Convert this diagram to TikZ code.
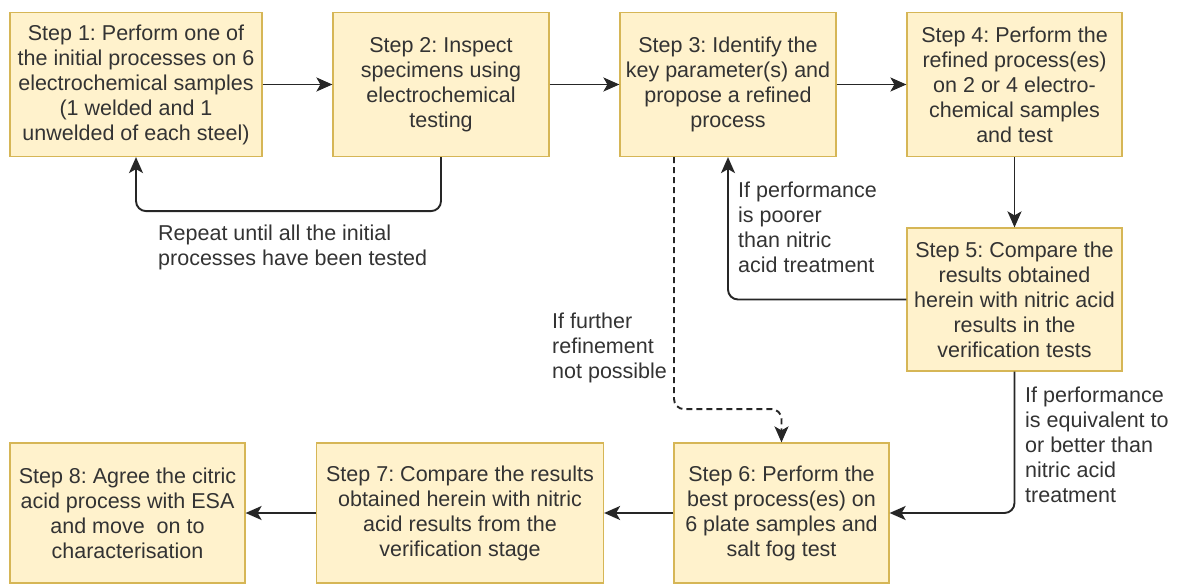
\documentclass[tikz,border=0pt]{standalone}
\usepackage{fontspec}
\setmainfont{Liberation Sans}
\usepackage{xcolor}
\usetikzlibrary{arrows.meta,calc}

\definecolor{boxfill}{HTML}{FFF2CC}
\definecolor{boxline}{HTML}{D6B656}
\definecolor{txtgray}{HTML}{333333}

\frenchspacing

\tikzset{
  stepbox/.style={draw=boxline, line width=1.2pt, fill=boxfill, text=txtgray, align=center,
    inner sep=0pt, font=\fontsize{21.5}{25}\selectfont},
  note/.style={text=txtgray, align=left, inner sep=0pt, anchor=west,
    font=\fontsize{21.5}{25}\selectfont},
  arr/.style={-{Stealth[length=16pt,width=14pt,inset=4pt]}, line width=1.9pt, draw=black!85},
}

\begin{document}
\begin{tikzpicture}[x=1pt,y=-1pt]

    \useasboundingbox (0,0) rectangle (1178,585);

    % top row
    \node[stepbox, minimum width=252pt, minimum height=144pt] (s1) at (136,84.5)
      {Step 1: Perform one of\\the initial processes on 6\\electrochemical samples\\(1 welded and 1\\unwelded of each steel)};
    \node[stepbox, minimum width=216pt, minimum height=144pt] (s2) at (441,84.5)
      {Step 2: Inspect\\specimens using\\electrochemical\\testing};
    \node[stepbox, minimum width=216pt, minimum height=144pt] (s3) at (728,84.5)
      {Step 3: Identify the\\key parameter(s) and\\propose a refined\\process};
    \node[stepbox, minimum width=215pt, minimum height=144pt] (s4) at (1014.5,84.5)
      {Step 4: Perform the\\refined process(es)\\on 2 or 4 electro-\\chemical samples\\and test};

    \node[stepbox, minimum width=215pt, minimum height=143pt] (s5) at (1014.5,299.5)
      {Step 5: Compare the\\results obtained\\herein with nitric acid\\results in the\\verification tests};

    % bottom row
    \node[stepbox, minimum width=215pt, minimum height=140pt] (s6) at (781.5,513)
      {Step 6: Perform the\\best process(es) on\\6 plate samples and\\salt fog test};
    \node[stepbox, minimum width=287pt, minimum height=140pt] (s7) at (460,513)
      {Step 7: Compare the results\\obtained herein with nitric\\acid results from the\\verification stage};
    \node[stepbox, minimum width=235pt, minimum height=140pt] (s8) at (127.5,513)
      {Step 8: Agree the citric\\acid process with ESA\\and move\ \ on to\\characterisation};

    \draw[arr] (s1) -- (s2);
    \draw[arr] (s2) -- (s3);
    \draw[arr] (s3) -- (s4);
    \draw[arr] (s4) -- (s5);
    \draw[arr, rounded corners=10pt] (s2.south) -- ++(0,54) -| (s1.south);
    \draw[arr, rounded corners=10pt] (s5.west) -| (s3.south);
    \draw[arr, rounded corners=10pt] (s5.south) |- (s6.east);
    \draw[arr, dash pattern=on 6pt off 4pt, rounded corners=10pt]
      ($(s3.south)+(-54,0)$) -- ++(0,252) -| (s6.north);
    \draw[arr] (s6) -- (s7);
    \draw[arr] (s7) -- (s8);

    \node[note] (lrep) at (158,247.5) {Repeat until all the initial\\processes have been tested};
    \node[note] (lpoor) at (738,227.5) {If performance\\is poorer\\than nitric\\acid treatment};
    \node[note] (lfur) at (552,348) {If further\\refinement\\not possible};
    \node[note] (lequ) at (1025,445) {If performance\\is equivalent to\\or better than\\nitric acid\\treatment};

\end{tikzpicture}
\end{document}
